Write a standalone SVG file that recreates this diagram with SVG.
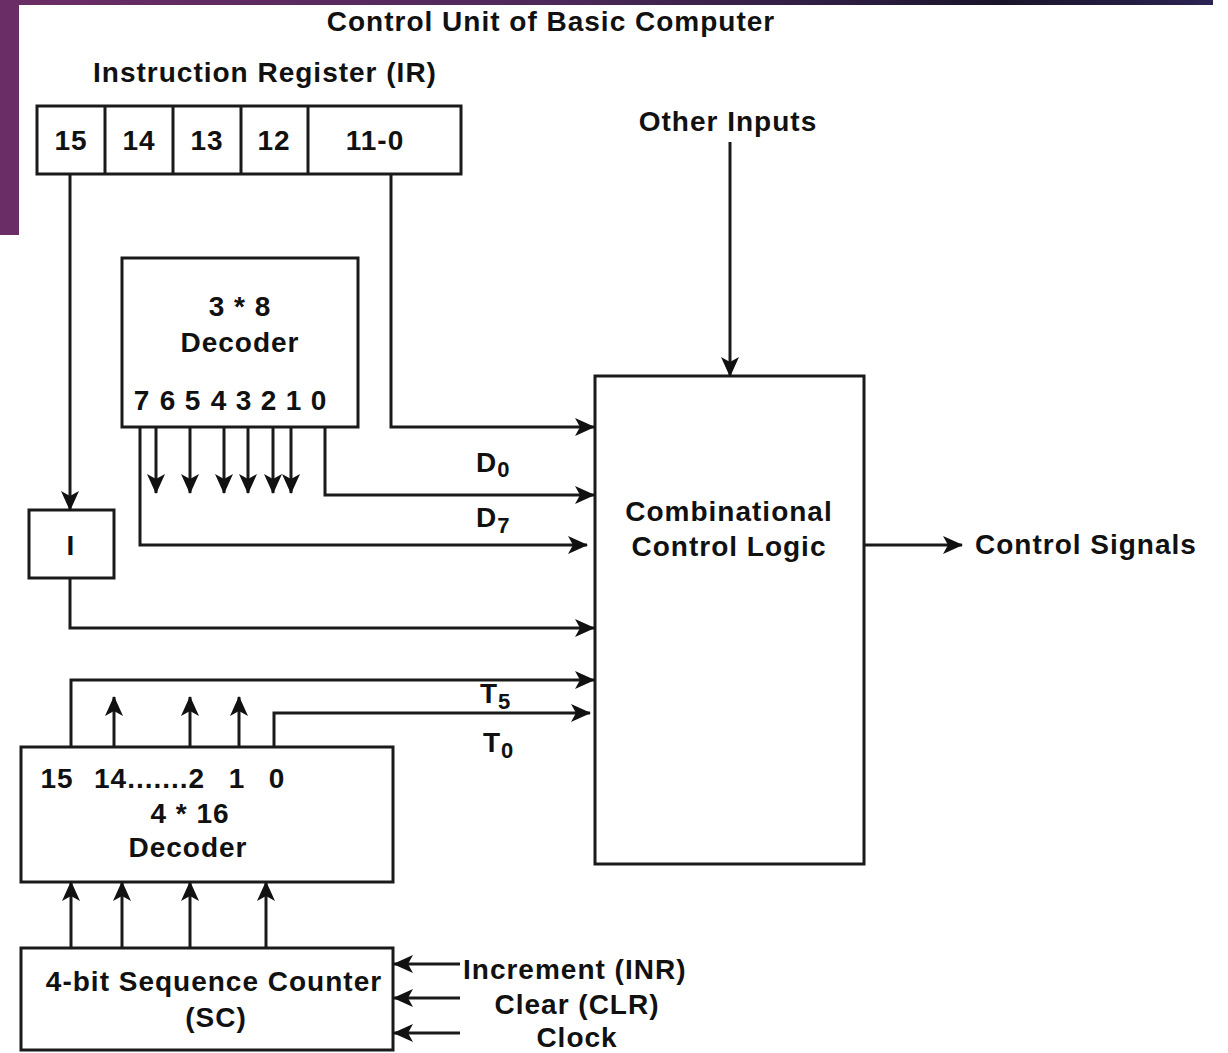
<svg xmlns="http://www.w3.org/2000/svg" width="1228" height="1053" viewBox="0 0 1228 1053">
<defs>
<linearGradient id="bar" x1="0" y1="0" x2="1" y2="0">
<stop offset="0" stop-color="#6b2d65"/>
<stop offset="0.45" stop-color="#4e2859"/>
<stop offset="0.72" stop-color="#2a1c3e"/>
<stop offset="0.82" stop-color="#1a1429"/>
<stop offset="1" stop-color="#2b2352"/>
</linearGradient>
<marker id="arr" viewBox="0 0 20 18" refX="19" refY="9" markerWidth="20" markerHeight="18" markerUnits="userSpaceOnUse" orient="auto">
<path d="M0,0 L20,9 L0,18 L5,9 Z" fill="#111"/>
</marker>
<style>
.box{fill:#fff;stroke:#1a1a1a;stroke-width:3}
.ln{fill:none;stroke:#1a1a1a;stroke-width:3}
.w{fill:none;stroke:#1a1a1a;stroke-width:3;marker-end:url(#arr)}
text{font-family:"Liberation Sans",Arial,sans-serif;font-weight:bold;font-size:28px;letter-spacing:1px;fill:#111}
.c{text-anchor:middle}
.sub{font-size:22px}
</style>
</defs>
<rect width="1228" height="1053" fill="#fff"/>
<g id="decor">
<rect x="0" y="0" width="1213" height="5" fill="url(#bar)"/>
<rect x="0" y="0" width="19" height="235" fill="#6b2d65"/>
</g>
<text class="c" x="551" y="31">Control Unit of Basic Computer</text>
<g id="ir">
<text class="c" x="265" y="82">Instruction Register (IR)</text>
<rect class="box" x="37" y="106" width="424" height="68"/>
<path class="ln" d="M105,106 V174 M173,106 V174 M241,106 V174 M308,106 V174"/>
<text class="c" x="71" y="150">15</text>
<text class="c" x="139" y="150">14</text>
<text class="c" x="207" y="150">13</text>
<text class="c" x="274" y="150">12</text>
<text class="c" x="375" y="150">11-0</text>
</g>
<g id="other-inputs">
<text class="c" x="728" y="131">Other Inputs</text>
</g>
<g id="decoder38">
<rect class="box" x="122" y="258" width="236" height="169"/>
<text class="c" x="240" y="316">3 * 8</text>
<text class="c" x="240" y="352">Decoder</text>
<text class="c" x="142" y="410">7</text>
<text class="c" x="168" y="410">6</text>
<text class="c" x="193" y="410">5</text>
<text class="c" x="219" y="410">4</text>
<text class="c" x="244" y="410">3</text>
<text class="c" x="269" y="410">2</text>
<text class="c" x="294" y="410">1</text>
<text class="c" x="319" y="410">0</text>
</g>
<g id="i-flag">
<rect class="box" x="29" y="510" width="85" height="68"/>
<text class="c" x="71" y="555">I</text>
</g>
<g id="ccl">
<rect class="box" x="595" y="376" width="269" height="488"/>
<text class="c" x="729" y="521">Combinational</text>
<text class="c" x="729" y="556">Control Logic</text>
</g>
<g id="control-signals">
<text x="975" y="554">Control Signals</text>
</g>
<g id="decoder416">
<rect class="box" x="21" y="747" width="372" height="135"/>
<text class="c" x="57" y="788">15</text>
<text x="94" y="788">14.......2</text>
<text class="c" x="237" y="788">1</text>
<text class="c" x="277" y="788">0</text>
<text class="c" x="190" y="823">4 * 16</text>
<text class="c" x="188" y="857">Decoder</text>
</g>
<g id="sc">
<rect class="box" x="21" y="948" width="372" height="102"/>
<text class="c" x="214" y="991">4-bit Sequence Counter</text>
<text class="c" x="216" y="1027">(SC)</text>
</g>
<g id="sc-inputs">
<text x="463" y="979">Increment (INR)</text>
<text class="c" x="577" y="1014">Clear (CLR)</text>
<text class="c" x="577" y="1047">Clock</text>
</g>
<g id="connectors">
<path class="w" d="M70,174 V510"/>
<path class="w" d="M70,578 V628 H594"/>
<path class="w" d="M391,174 V427 H594"/>
<path class="w" d="M730,142 V376"/>
<path class="w" d="M325,427 V495 H594"/>
<path class="w" d="M140,427 V545 H587"/>
<path class="w" d="M156,427 V493"/>
<path class="w" d="M190,427 V493"/>
<path class="w" d="M224,427 V493"/>
<path class="w" d="M248,427 V493"/>
<path class="w" d="M273,427 V493"/>
<path class="w" d="M291,427 V493"/>
<path class="w" d="M864,545 H962"/>
<path class="w" d="M71,747 V680 H594"/>
<path class="w" d="M274,747 V713 H590"/>
<path class="w" d="M114,747 V697"/>
<path class="w" d="M190,747 V697"/>
<path class="w" d="M239,747 V697"/>
<path class="w" d="M71,948 V882"/>
<path class="w" d="M122,948 V882"/>
<path class="w" d="M190,948 V882"/>
<path class="w" d="M266,948 V882"/>
<path class="w" d="M460,964 H394"/>
<path class="w" d="M460,998 H394"/>
<path class="w" d="M460,1033 H394"/>
</g>
<g id="labels">
<text x="476" y="472">D<tspan class="sub" dy="5">0</tspan></text>
<text x="476" y="527">D<tspan class="sub" dy="6">7</tspan></text>
<text x="480" y="703">T<tspan class="sub" dy="6">5</tspan></text>
<text x="483" y="752">T<tspan class="sub" dy="6">0</tspan></text>
</g>
</svg>
